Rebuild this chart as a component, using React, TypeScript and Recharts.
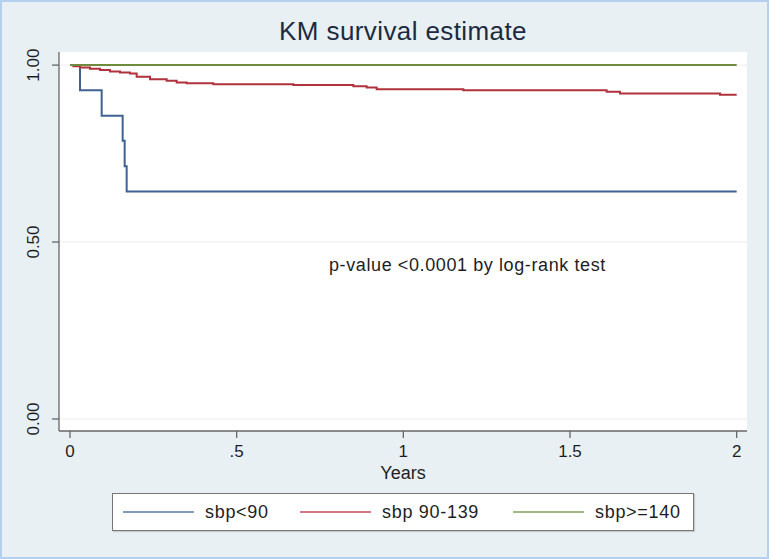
import { LineChart, Line, XAxis, YAxis, CartesianGrid, ReferenceDot } from "recharts"

// KM step points (years, survival)
const lowT = [0, 0.03, 0.095, 0.158, 0.164, 0.17, 2]
const lowS = [1, 0.929, 0.857, 0.786, 0.714, 0.643, 0.643]

const midT = [0, 0.01, 0.03, 0.06, 0.09, 0.12, 0.15, 0.18, 0.2, 0.24, 0.29, 0.32, 0.35, 0.43, 0.67, 0.85, 0.89, 0.92, 1.18, 1.61, 1.65, 1.95, 2]
const midS = [1, 0.997, 0.993, 0.99, 0.986, 0.982, 0.979, 0.976, 0.967, 0.96, 0.956, 0.951, 0.949, 0.946, 0.944, 0.94, 0.937, 0.932, 0.929, 0.925, 0.92, 0.916, 0.916]

const highT = [0, 2]
const highS = [1, 1]

const xTicks = [0, 0.5, 1, 1.5, 2]
const xTickLabels = ["0", ".5", "1", "1.5", "2"]
const yTicks = [0, 0.5, 1]

const series = [
  { name: "sbp<90", t: lowT, s: lowS, color: "#3f6290", legendColor: "#8499bd" },
  { name: "sbp 90-139", t: midT, s: midS, color: "#b0323c", legendColor: "#d57a84" },
  { name: "sbp>=140", t: highT, s: highS, color: "#6e8c3c", legendColor: "#a3b783" },
]

const font = "'Liberation Sans', Arial, Helvetica, sans-serif"

const XTick = ({ x, y, payload }: any) => {
  const i = xTicks.indexOf(payload.value)
  return (
    <text x={x} y={y + 17} textAnchor="middle" fontSize={17} fontFamily={font} fill="#1e1e1e">
      {i >= 0 ? xTickLabels[i] : payload.value}
    </text>
  )
}

const YTick = ({ x, y, payload }: any) => (
  <text
    x={x - 11}
    y={y}
    textAnchor="middle"
    fontSize={17}
    fontFamily={font}
    fill="#1e1e1e"
    transform={`rotate(-90 ${x - 11} ${y})`}
  >
    {payload.value.toFixed(2)}
  </text>
)

export default function App() {
  const legendLefts = [10, 187, 400]

  return (
    <div
      style={{
        position: "absolute",
        left: 0,
        top: 0,
        width: 769,
        height: 559,
        background: "#e8f0f3",
        fontFamily: font,
        overflow: "hidden",
      }}
    >
      <div
        style={{
          position: "absolute",
          left: 0,
          top: 16,
          width: 806,
          textAlign: "center",
          fontSize: 26,
          letterSpacing: 0.4,
          color: "#1c2b3f",
        }}
      >
        KM survival estimate
      </div>

      <div style={{ position: "absolute", left: 0, top: 0 }}>
        <LineChart width={769} height={559} margin={{ top: 52, right: 22, bottom: 78, left: 0 }}>
          <CartesianGrid vertical={false} fill="#ffffff" stroke="#ececec" horizontalValues={yTicks} />
          <XAxis
            type="number"
            dataKey="t"
            domain={[-0.033, 2.031]}
            ticks={xTicks}
            height={50}
            tick={<XTick />}
            tickSize={7}
            stroke="#666"
            strokeWidth={1.3}
            label={{ value: "Years", position: "insideBottom", offset: 2, fontSize: 18, fill: "#1e1e1e", fontFamily: font }}
          />
          <YAxis
            type="number"
            dataKey="s"
            domain={[-0.034, 1.037]}
            ticks={yTicks}
            width={59}
            tick={<YTick />}
            tickSize={7}
            stroke="#666"
            strokeWidth={1.3}
          />
          {series.map((sr) => (
            <Line
              key={sr.name}
              data={sr.t.map((t, i) => ({ t, s: sr.s[i] }))}
              dataKey="s"
              type="stepAfter"
              stroke={sr.color}
              strokeWidth={2}
              dot={false}
              isAnimationActive={false}
            />
          ))}
          <ReferenceDot
            x={0.777}
            y={0.435}
            r={0}
            ifOverflow="visible"
            label={({ viewBox }: any) => (
              <text
                x={viewBox.x}
                y={viewBox.y + 6}
                fontSize={18}
                letterSpacing={0.6}
                fontFamily={font}
                fill="#1e1e1e"
              >
                p-value &lt;0.0001 by log-rank test
              </text>
            )}
          />
        </LineChart>
      </div>

      <div
        style={{
          position: "absolute",
          left: 112,
          top: 493,
          width: 582,
          height: 38,
          boxSizing: "border-box",
          background: "#ffffff",
          border: "1px solid #777",
          boxShadow: "1px 1px 1px rgba(0,0,0,0.15)",
        }}
      >
        {series.map((sr, i) => (
          <div
            key={sr.name}
            style={{
              position: "absolute",
              left: legendLefts[i],
              top: 0,
              height: 36,
              display: "flex",
              alignItems: "center",
            }}
          >
            <div style={{ width: 71, height: 2, background: sr.legendColor, marginRight: 11 }} />
            <span style={{ fontSize: 18, letterSpacing: 0.7, color: "#1e1e1e" }}>{sr.name}</span>
          </div>
        ))}
      </div>

      <div
        style={{
          position: "absolute",
          inset: 0,
          border: "2px solid #b5d0ee",
          pointerEvents: "none",
        }}
      />
    </div>
  )
}
